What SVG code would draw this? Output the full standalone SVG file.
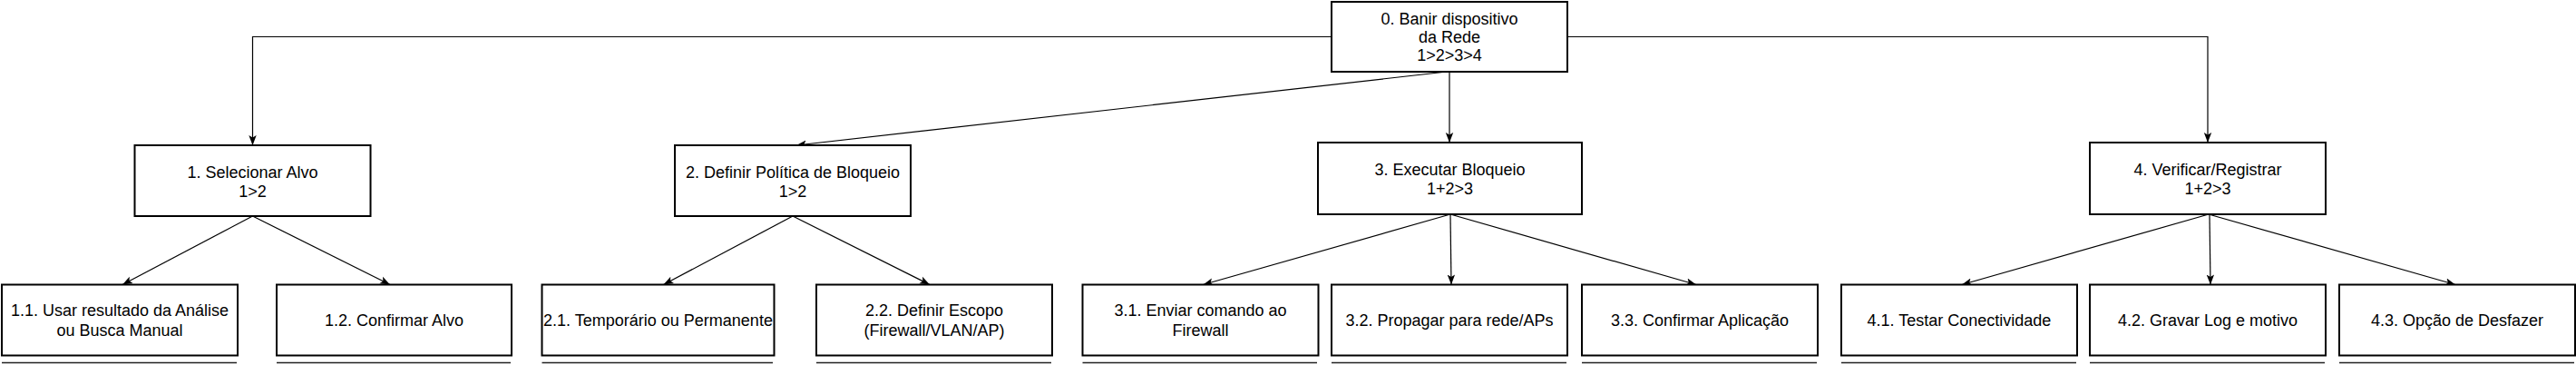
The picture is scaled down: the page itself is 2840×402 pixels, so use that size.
<svg xmlns="http://www.w3.org/2000/svg" width="2840" height="402" viewBox="0 0 2840 402">
<style>
.box{fill:#fff;stroke:#000;stroke-width:2}
.t{font-family:"Liberation Sans",Arial,sans-serif;font-size:18px;fill:#000;text-anchor:middle}
.c{fill:none;stroke:#000;stroke-width:1.2}
.u{stroke:#222;stroke-width:1.5}
</style>
<defs>
<marker id="ar" markerUnits="userSpaceOnUse" markerWidth="12" markerHeight="10" viewBox="0 0 12 10" refX="11" refY="5" orient="auto">
<path d="M0,0.8 L11,5 L0,9.2 L2.5,5 Z" fill="#000"/>
</marker>
</defs>
<rect width="2840" height="402" fill="#fff"/>
<g id="connectors">
<polyline class="c" points="1468,40.5 278.5,40.5 278.5,160" marker-end="url(#ar)"/>
<polyline class="c" points="1728,40.5 2434,40.5 2434,157" marker-end="url(#ar)"/>
<line class="c" x1="1595" y1="79" x2="878" y2="160" marker-end="url(#ar)"/>
<line class="c" x1="1598" y1="79" x2="1598" y2="157" marker-end="url(#ar)"/>
<line class="c" x1="278.5" y1="238" x2="135" y2="313.5" marker-end="url(#ar)"/>
<line class="c" x1="278.5" y1="238" x2="430" y2="313.5" marker-end="url(#ar)"/>
<line class="c" x1="874" y1="238" x2="731.5" y2="313.5" marker-end="url(#ar)"/>
<line class="c" x1="874" y1="238" x2="1025" y2="313.5" marker-end="url(#ar)"/>
<line class="c" x1="1599" y1="236" x2="1326.5" y2="313.5" marker-end="url(#ar)"/>
<line class="c" x1="1599" y1="236" x2="1600" y2="313.5" marker-end="url(#ar)"/>
<line class="c" x1="1599" y1="236" x2="1870" y2="313.5" marker-end="url(#ar)"/>
<line class="c" x1="2435" y1="236" x2="2163" y2="313.5" marker-end="url(#ar)"/>
<line class="c" x1="2436" y1="236" x2="2437" y2="313.5" marker-end="url(#ar)"/>
<line class="c" x1="2435" y1="236" x2="2707" y2="313.5" marker-end="url(#ar)"/>
</g>
<g id="n0"><rect class="box" x="1468" y="2" width="260" height="77"/>
<text class="t" x="1598" y="26.7">0. Banir dispositivo</text><text class="t" x="1598" y="46.7">da Rede</text><text class="t" x="1598" y="66.7">1&gt;2&gt;3&gt;4</text></g>
<g id="n1"><rect class="box" x="148.5" y="160" width="260" height="78"/>
<text class="t" x="278.5" y="195.5">1. Selecionar Alvo</text><text class="t" x="278.5" y="216.5">1&gt;2</text></g>
<g id="n2"><rect class="box" x="744" y="160" width="260" height="78"/>
<text class="t" x="874" y="195.5">2. Definir Política de Bloqueio</text><text class="t" x="874" y="216.5">1&gt;2</text></g>
<g id="n3"><rect class="box" x="1453" y="157" width="291" height="79"/>
<text class="t" x="1598.5" y="192.5">3. Executar Bloqueio</text><text class="t" x="1598.5" y="214">1+2&gt;3</text></g>
<g id="n4"><rect class="box" x="2304" y="157" width="260" height="79"/>
<text class="t" x="2434" y="192.5">4. Verificar/Registrar</text><text class="t" x="2434" y="214">1+2&gt;3</text></g>
<g id="n11"><rect class="box" x="2" y="313.5" width="260" height="78"/><line class="u" x1="2" y1="399.5" x2="261" y2="399.5"/>
<text class="t" x="132" y="348.3">1.1. Usar resultado da Análise</text><text class="t" x="132" y="370">ou Busca Manual</text></g>
<g id="n12"><rect class="box" x="305" y="313.5" width="259" height="78"/><line class="u" x1="305" y1="399.5" x2="563" y2="399.5"/>
<text class="t" x="434.5" y="358.5">1.2. Confirmar Alvo</text></g>
<g id="n21"><rect class="box" x="597.5" y="313.5" width="256" height="78"/><line class="u" x1="597.5" y1="399.5" x2="852" y2="399.5"/>
<text class="t" x="725.5" y="358.5">2.1. Temporário ou Permanente</text></g>
<g id="n22"><rect class="box" x="900" y="313.5" width="260" height="78"/><line class="u" x1="900" y1="399.5" x2="1159" y2="399.5"/>
<text class="t" x="1030" y="348.3">2.2. Definir Escopo</text><text class="t" x="1030" y="370">(Firewall/VLAN/AP)</text></g>
<g id="n31"><rect class="box" x="1193.5" y="313.5" width="260" height="78"/><line class="u" x1="1193.5" y1="399.5" x2="1452" y2="399.5"/>
<text class="t" x="1323.5" y="348.3">3.1. Enviar comando ao</text><text class="t" x="1323.5" y="370">Firewall</text></g>
<g id="n32"><rect class="box" x="1468" y="313.5" width="260" height="78"/><line class="u" x1="1468" y1="399.5" x2="1727" y2="399.5"/>
<text class="t" x="1598" y="358.5">3.2. Propagar para rede/APs</text></g>
<g id="n33"><rect class="box" x="1744" y="313.5" width="260" height="78"/><line class="u" x1="1744" y1="399.5" x2="2003" y2="399.5"/>
<text class="t" x="1874" y="358.5">3.3. Confirmar Aplicação</text></g>
<g id="n41"><rect class="box" x="2030" y="313.5" width="260" height="78"/><line class="u" x1="2030" y1="399.5" x2="2289" y2="399.5"/>
<text class="t" x="2160" y="358.5">4.1. Testar Conectividade</text></g>
<g id="n42"><rect class="box" x="2304" y="313.5" width="260" height="78"/><line class="u" x1="2304" y1="399.5" x2="2563" y2="399.5"/>
<text class="t" x="2434" y="358.5">4.2. Gravar Log e motivo</text></g>
<g id="n43"><rect class="box" x="2579" y="313.5" width="260" height="78"/><line class="u" x1="2579" y1="399.5" x2="2838" y2="399.5"/>
<text class="t" x="2709" y="358.5">4.3. Opção de Desfazer</text></g>
</svg>
